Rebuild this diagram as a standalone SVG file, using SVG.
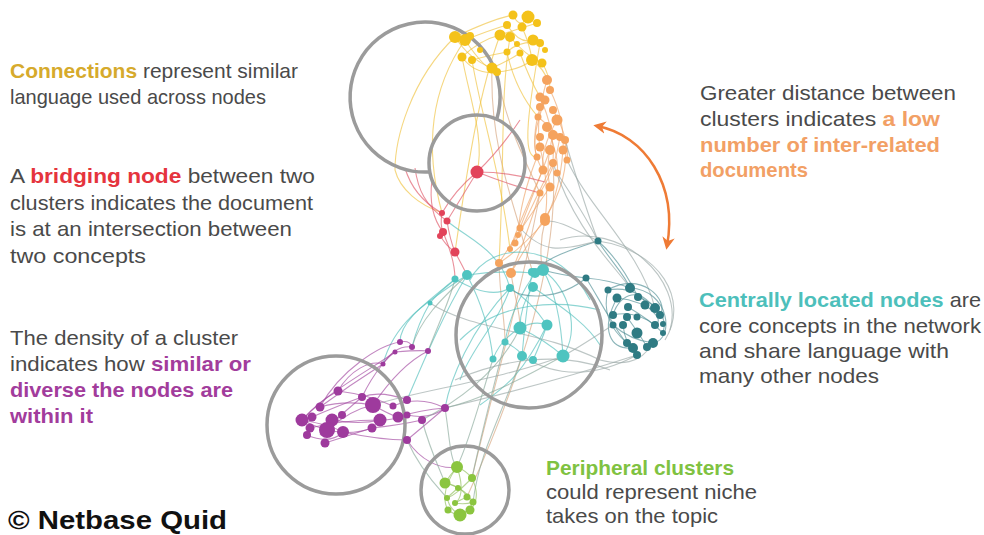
<svg xmlns="http://www.w3.org/2000/svg" width="984" height="535" viewBox="0 0 984 535">
<defs>
<style>
.t{font-family:"Liberation Sans",Arial,sans-serif;font-size:21px;fill:#4a4a4a}
.b{font-weight:bold}
.ring{fill:none;stroke:#9b9b9b;stroke-width:3.5}
.e{fill:none;stroke-width:1.1;opacity:.65}
.ey{stroke:#efc23e}.eo{stroke:#eea56a}.et{stroke:#d6a47e}.er{stroke:#df5566}
.ec{stroke:#52bfbb}.ed{stroke:#4f8d93}.ep{stroke:#a2479f}.eg{stroke:#8fbf5a}.ex{stroke:#9aa7a6}.eq{stroke:#8aa99b}
.ny circle{fill:#f4c21a}.no circle{fill:#f5a35e}.nr circle{fill:#e2435a}
.nc circle{fill:#4fc4c0}.nd circle{fill:#2f7b83}.np circle{fill:#9e3a9d}.ng circle{fill:#8bc53f}
</style>
<marker id="ah" viewBox="0 0 10 10" refX="7" refY="5" markerWidth="5" markerHeight="5" orient="auto-start-reverse">
<path d="M0,0 L10,5 L0,10 L3,5 Z" fill="#ef7b35"/>
</marker>
</defs>
<rect width="984" height="535" fill="#ffffff"/>

<g id="connectors">
<!-- yellow -->
<path class="e ey" d="M513,15 Q520,30 528,17"/>
<path class="e ey" d="M507,25 Q520,45 533,40"/>
<path class="e ey" d="M500,35 Q515,30 537,23"/>
<path class="e ey" d="M510,37 Q525,55 542,63"/>
<path class="e ey" d="M507,52 Q520,40 540,43"/>
<path class="e ey" d="M522,27 Q530,45 532,60"/>
<path class="e ey" d="M455,37 Q490,20 513,15"/>
<path class="e ey" d="M465,40 Q490,30 507,25"/>
<path class="e ey" d="M462,57 Q480,40 500,35"/>
<path class="e ey" d="M472,60 Q490,55 507,52"/>
<path class="e ey" d="M455,37 Q470,60 492,68"/>
<path class="e ey" d="M465,40 Q485,70 497,72"/>
<path class="e ey" d="M492,68 Q510,60 520,53"/>
<path class="e ey" d="M497,72 Q520,70 532,60"/>
<path class="e ey" d="M462,57 Q475,75 497,72"/>
<path class="e ey" d="M532,60 Q545,70 547,80"/>
<path class="e ey" d="M542,63 Q550,75 550,90"/>
<path class="e ey" d="M520,53 Q530,80 540,97"/>
<path class="e ey" d="M507,52 Q515,90 538,117"/>
<path class="e et" d="M497,72 C505,120 520,150 540,193"/>
<path class="e et" d="M492,68 C490,130 505,180 520,228"/>
<path class="e ey" d="M472,60 C480,110 500,170 510,249"/>
<path class="e ey" d="M462,57 C470,100 485,140 477,172"/>
<path class="e ey" d="M455,37 C410,80 395,140 395,170 C400,190 420,205 440,212"/>
<path class="e ey" d="M465,40 C430,90 425,150 442,213"/>
<path class="e ey" d="M500,35 C480,90 470,150 455,252"/>
<path class="e ey" d="M510,37 C500,100 505,150 499,263"/>
<path class="e ey" d="M540,43 C530,100 520,160 537,157"/>
<!-- orange -->
<path class="e eo" d="M547,80 Q535,120 540,147"/>
<path class="e eo" d="M550,90 Q565,120 563,150"/>
<path class="e eo" d="M540,97 Q555,130 553,163"/>
<path class="e eo" d="M545,100 Q530,140 537,157"/>
<path class="e eo" d="M553,110 Q570,140 567,160"/>
<path class="e eo" d="M557,120 Q540,150 543,170"/>
<path class="e eo" d="M547,127 Q560,160 557,173"/>
<path class="e eo" d="M553,135 Q545,165 550,187"/>
<path class="e eo" d="M560,137 Q555,170 540,193"/>
<path class="e eo" d="M565,140 Q570,180 545,218"/>
<path class="e eo" d="M540,147 Q550,190 545,218"/>
<path class="e eo" d="M550,150 Q535,190 520,228"/>
<path class="e eo" d="M563,150 C560,190 550,210 545,221"/>
<path class="e eo" d="M537,157 Q520,200 518,235"/>
<path class="e eo" d="M553,163 Q530,210 515,243"/>
<path class="e eo" d="M543,170 Q520,220 510,249"/>
<path class="e eo" d="M550,187 Q520,230 499,263"/>
<path class="e eo" d="M540,193 Q525,240 511,273"/>
<path class="e eo" d="M545,218 Q530,240 511,273"/>
<path class="e eo" d="M545,221 Q520,250 499,263"/>
<path class="e eo" d="M538,117 Q548,125 560,137"/>
<path class="e eo" d="M540,107 Q528,150 543,170"/>
<path class="e et" d="M545,221 C540,240 540,260 543,270"/>
<path class="e et" d="M520,228 C525,250 530,262 533,273"/>
<path class="e et" d="M499,263 C500,300 505,320 505,342"/>
<path class="e et" d="M511,273 C515,300 520,310 520,328"/>
<path class="e et" d="M540,193 C520,300 490,400 472,478"/>
<path class="e et" d="M553,163 C560,260 520,380 467,497"/>
<path class="e ex" d="M557,173 C575,200 590,225 598,241"/>
<path class="e ex" d="M565,140 C580,190 590,220 598,241"/>
<path class="e ex" d="M553,163 C575,230 610,260 630,288"/>
<path class="e ex" d="M567,160 C590,210 640,250 655,308"/>
<!-- red -->
<path class="e er" d="M477,172 Q455,190 442,213"/>
<path class="e er" d="M477,172 Q460,200 447,221"/>
<path class="e er" d="M477,172 Q510,172 545,182"/>
<path class="e er" d="M477,172 Q510,185 540,193"/>
<path class="e er" d="M477,172 Q500,150 520,120"/>
<path class="e er" d="M442,213 Q440,225 443,232"/>
<path class="e er" d="M447,221 Q450,240 455,252"/>
<path class="e er" d="M440,235 Q445,245 455,252"/>
<path class="e er" d="M440,212 C420,200 410,185 405,168"/>
<path class="e er" d="M447,221 C425,205 418,190 415,168"/>
<path class="e er" d="M443,232 C430,215 430,195 432,180"/>
<path class="e er" d="M455,252 Q462,265 467,275"/>
<path class="e er" d="M443,232 Q455,260 455,279"/>
<path class="e ec" d="M447,221 C470,240 500,250 510,288"/>
<!-- light teal -->
<path class="e ec" d="M467,275 Q500,270 533,273"/>
<path class="e ec" d="M455,279 Q490,300 510,288"/>
<path class="e ec" d="M510,288 Q530,300 547,325"/>
<path class="e ec" d="M533,287 Q520,305 520,328"/>
<path class="e ec" d="M543,270 Q560,300 563,356"/>
<path class="e ec" d="M535,273 Q510,310 505,342"/>
<path class="e ec" d="M532,272 Q525,320 522,356"/>
<path class="e ec" d="M520,328 Q535,320 547,325"/>
<path class="e ec" d="M520,328 Q500,340 493,359"/>
<path class="e ec" d="M547,325 Q540,345 533,360"/>
<path class="e ec" d="M505,342 Q520,350 522,356"/>
<path class="e ec" d="M520,328 Q545,340 563,356"/>
<path class="e ec" d="M533,287 C550,300 585,320 600,345"/>
<path class="e ec" d="M470,280 C490,240 560,240 590,300"/>
<path class="e ec" d="M460,340 C500,300 560,300 600,310"/>
<path class="e ec" d="M467,275 C480,300 490,330 493,359"/>
<path class="e ec" d="M543,270 C570,290 580,330 563,356"/>
<path class="e ec" d="M510,288 C500,320 470,350 460,380"/>
<path class="e ec" d="M547,325 C520,380 500,390 480,405"/>
<path class="e ec" d="M455,279 C430,300 400,320 400,342"/>
<path class="e ec" d="M430,303 C440,290 450,285 455,279"/>
<path class="e ec" d="M467,275 C440,320 420,370 407,400"/>
<path class="e ec" d="M510,288 C470,330 450,380 445,408"/>
<path class="e ec" d="M467,275 C430,300 395,320 383,364"/>
<path class="e ec" d="M430,303 C420,320 415,335 412,347"/>
<path class="e eq" d="M493,359 C480,400 470,440 457,467"/>
<path class="e eq" d="M505,342 C490,400 480,440 472,478"/>
<path class="e eq" d="M522,356 C500,420 480,450 473,502"/>
<path class="e ex" d="M430,303 C470,330 540,330 600,360"/>
<path class="e ex" d="M455,380 C500,360 560,350 610,370"/>
<path class="e ex" d="M445,408 C500,395 560,380 637,355"/>
<path class="e ex" d="M563,356 C500,380 420,390 373,405"/>
<!-- dark teal -->
<path class="e ed" d="M586,278 C600,300 620,340 637,355"/>
<path class="e ed" d="M598,241 C610,260 625,275 630,288"/>
<path class="e ed" d="M598,241 Q620,260 638,297"/>
<path class="e ed" d="M586,278 Q610,280 630,288"/>
<path class="e ed" d="M608,290 Q635,285 655,308"/>
<path class="e ed" d="M617,298 Q640,300 660,315"/>
<path class="e ed" d="M613,315 Q635,310 655,325"/>
<path class="e ed" d="M628,307 Q650,320 663,333"/>
<path class="e ed" d="M613,325 Q630,340 653,343"/>
<path class="e ed" d="M627,317 Q640,335 647,347"/>
<path class="e ed" d="M623,325 Q625,345 637,355"/>
<path class="e ed" d="M608,290 Q600,320 627,343"/>
<path class="e ed" d="M645,305 Q665,320 655,325"/>
<path class="e ed" d="M638,297 Q670,310 663,333"/>
<path class="e ed" d="M630,288 C670,290 675,340 653,343"/>
<path class="e ed" d="M617,298 C600,330 610,350 633,348"/>
<path class="e ed" d="M608,290 C640,270 670,300 660,315"/>
<path class="e ed" d="M613,315 C620,290 645,290 645,305"/>
<path class="e ed" d="M598,241 C570,250 540,260 535,273"/>
<path class="e ed" d="M586,278 Q560,275 543,270"/>
<path class="e ed" d="M586,278 C560,300 520,300 510,288"/>
<path class="e ex" d="M613,325 C590,340 575,350 563,356"/>
<path class="e ex" d="M637,355 C600,375 560,380 522,356"/>
<path class="e ex" d="M598,241 C660,250 690,300 665,340"/>
<path class="e ex" d="M560,240 C620,220 685,280 670,330"/>
<path class="e ex" d="M598,241 C575,230 560,220 545,221"/>
<path class="e ex" d="M598,241 C560,250 545,255 520,228"/>
<path class="e ex" d="M600,360 C620,365 640,365 653,343"/>
<!-- purple -->
<path class="e ep" d="M302,420 Q320,400 338,391"/>
<path class="e ep" d="M302,420 Q330,425 343,432"/>
<path class="e ep" d="M312,417 Q340,405 362,397"/>
<path class="e ep" d="M320,407 Q345,400 373,405"/>
<path class="e ep" d="M302,420 Q340,440 372,428"/>
<path class="e ep" d="M310,428 Q340,420 380,420"/>
<path class="e ep" d="M307,435 Q330,445 343,432"/>
<path class="e ep" d="M327,430 Q350,410 373,405"/>
<path class="e ep" d="M332,420 Q360,425 380,420"/>
<path class="e ep" d="M325,443 Q350,435 372,428"/>
<path class="e ep" d="M320,435 Q340,415 362,397"/>
<path class="e ep" d="M338,391 Q370,395 393,406"/>
<path class="e ep" d="M362,397 Q380,390 407,400"/>
<path class="e ep" d="M373,405 Q390,415 398,417"/>
<path class="e ep" d="M380,420 Q395,420 407,415"/>
<path class="e ep" d="M372,428 Q400,425 422,420"/>
<path class="e ep" d="M343,432 Q380,440 407,440"/>
<path class="e ep" d="M398,417 Q420,410 445,408"/>
<path class="e ep" d="M407,415 Q430,420 445,408"/>
<path class="e ep" d="M407,440 Q425,425 445,408"/>
<path class="e ep" d="M393,406 Q420,395 445,408"/>
<path class="e ep" d="M320,407 Q350,385 383,364"/>
<path class="e ep" d="M338,391 C350,370 370,360 383,364"/>
<path class="e ep" d="M362,397 C375,370 390,355 395,352"/>
<path class="e ep" d="M383,364 Q395,345 412,347"/>
<path class="e ep" d="M395,352 Q420,350 428,351"/>
<path class="e ep" d="M400,342 Q410,340 412,347"/>
<path class="e ep" d="M373,405 C390,380 410,360 428,351"/>
<path class="e ep" d="M320,407 C340,370 380,345 400,342"/>
<path class="e ep" d="M302,420 C330,390 370,370 395,352"/>
<path class="e eq" d="M428,351 C440,320 450,300 455,279"/>
<path class="e eq" d="M412,347 C420,320 440,300 467,275"/>
<path class="e eq" d="M445,408 C480,400 520,380 563,356"/>
<path class="e eq" d="M422,420 C460,400 500,370 520,328"/>
<path class="e ep" d="M407,440 C420,460 440,470 457,467"/>
<path class="e eq" d="M422,420 C430,450 440,470 445,483"/>
<path class="e eq" d="M445,408 C450,440 450,460 457,467"/>
<path class="e eq" d="M407,440 C420,470 440,490 447,498"/>
<!-- green -->
<path class="e eg" d="M457,467 Q450,475 445,483"/>
<path class="e eg" d="M457,467 Q465,470 472,478"/>
<path class="e eg" d="M445,483 Q455,485 458,488"/>
<path class="e eg" d="M458,488 Q450,495 447,498"/>
<path class="e eg" d="M458,488 Q465,492 467,497"/>
<path class="e eg" d="M467,497 Q460,500 455,503"/>
<path class="e eg" d="M455,503 Q465,505 473,502"/>
<path class="e eg" d="M447,498 Q450,510 460,515"/>
<path class="e eg" d="M473,502 Q470,510 460,515"/>
<path class="e eg" d="M448,510 Q455,515 460,515"/>
<path class="e eg" d="M470,510 Q465,512 460,515"/>
<path class="e eg" d="M457,467 C440,490 445,505 448,510"/>
<path class="e eg" d="M472,478 C480,495 475,505 470,510"/>
<path class="e eg" d="M445,483 C470,490 470,500 473,502"/>
<path class="e eg" d="M457,467 C465,490 460,500 455,503"/>
<path class="e eg" d="M472,478 C460,490 455,495 447,498"/>
</g>

<g id="rings">
<path class="ring" d="M496.7,119.3 A75,75 0 1,0 429.9,171.9"/>
<circle class="ring" cx="477" cy="163" r="48"/>
<circle class="ring" cx="529" cy="335" r="73"/>
<circle class="ring" cx="336" cy="425" r="69"/>
<circle class="ring" cx="465" cy="490" r="44"/>
</g>

<g id="cluster-yellow" class="ny">
<circle cx="513" cy="15" r="4.5"/><circle cx="528" cy="17" r="6.5"/><circle cx="507" cy="25" r="4"/>
<circle cx="522" cy="27" r="4.5"/><circle cx="537" cy="23" r="4"/><circle cx="500" cy="35" r="5.5"/>
<circle cx="510" cy="37" r="5"/><circle cx="533" cy="40" r="5.5"/><circle cx="540" cy="43" r="4"/>
<circle cx="507" cy="52" r="3.5"/><circle cx="520" cy="53" r="3.5"/><circle cx="532" cy="60" r="6"/>
<circle cx="542" cy="63" r="4.5"/><circle cx="517" cy="44" r="3"/><circle cx="545" cy="50" r="3"/>
<circle cx="455" cy="37" r="6"/><circle cx="465" cy="40" r="6"/><circle cx="470" cy="36" r="4"/>
<circle cx="462" cy="57" r="4.5"/><circle cx="472" cy="60" r="4"/><circle cx="492" cy="68" r="5.5"/>
<circle cx="497" cy="72" r="4"/><circle cx="480" cy="50" r="3"/>
</g>
<g id="cluster-orange" class="no">
<circle cx="547" cy="80" r="5"/><circle cx="550" cy="90" r="4"/><circle cx="540" cy="97" r="4.5"/>
<circle cx="545" cy="100" r="4.5"/><circle cx="553" cy="110" r="4"/><circle cx="540" cy="107" r="4"/>
<circle cx="538" cy="117" r="3.5"/><circle cx="557" cy="120" r="5.5"/><circle cx="547" cy="127" r="5"/>
<circle cx="540" cy="137" r="4"/><circle cx="553" cy="135" r="5"/><circle cx="560" cy="137" r="4"/>
<circle cx="565" cy="140" r="4"/><circle cx="540" cy="147" r="4.5"/><circle cx="550" cy="150" r="5"/>
<circle cx="563" cy="150" r="4.5"/><circle cx="567" cy="160" r="3.5"/><circle cx="537" cy="157" r="3.5"/>
<circle cx="553" cy="163" r="4"/><circle cx="543" cy="170" r="4.5"/><circle cx="557" cy="173" r="3.5"/>
<circle cx="550" cy="187" r="4.5"/><circle cx="540" cy="193" r="3.5"/><circle cx="545" cy="218" r="5"/>
<circle cx="545" cy="221" r="5"/><circle cx="520" cy="228" r="3.5"/><circle cx="518" cy="235" r="3"/>
<circle cx="515" cy="243" r="3.5"/><circle cx="510" cy="249" r="3"/><circle cx="499" cy="263" r="4"/>
<circle cx="511" cy="273" r="5"/>
</g>
<g id="bridging-node" class="nr">
<circle cx="477" cy="172" r="6.5" fill="#e8334a"/>
<circle cx="442" cy="213" r="3"/><circle cx="447" cy="221" r="3.5"/><circle cx="443" cy="232" r="4"/>
<circle cx="440" cy="236" r="3"/><circle cx="455" cy="252" r="4.5"/>
</g>
<g id="cluster-central" class="nc">
<circle cx="543" cy="270" r="6"/><circle cx="535" cy="273" r="5"/><circle cx="532" cy="272" r="4"/>
<circle cx="467" cy="275" r="5"/><circle cx="455" cy="279" r="3.5"/><circle cx="510" cy="288" r="4"/>
<circle cx="533" cy="287" r="5"/><circle cx="520" cy="328" r="6.5"/><circle cx="547" cy="325" r="5.5"/>
<circle cx="505" cy="342" r="3.5"/><circle cx="493" cy="359" r="3.5"/><circle cx="522" cy="356" r="5"/>
<circle cx="533" cy="360" r="4"/><circle cx="563" cy="356" r="6.5"/><circle cx="430" cy="303" r="2.5"/>
</g>
<g id="cluster-darkteal" class="nd">
<circle cx="598" cy="241" r="3.5"/><circle cx="586" cy="278" r="3.5"/><circle cx="608" cy="290" r="3.5"/>
<circle cx="630" cy="288" r="5"/><circle cx="617" cy="298" r="4.5"/><circle cx="638" cy="297" r="4"/>
<circle cx="613" cy="315" r="4"/><circle cx="628" cy="307" r="4"/><circle cx="645" cy="305" r="4.5"/>
<circle cx="655" cy="308" r="5"/><circle cx="627" cy="317" r="4"/><circle cx="637" cy="317" r="3.5"/>
<circle cx="660" cy="315" r="4"/><circle cx="613" cy="325" r="3.5"/><circle cx="623" cy="325" r="4"/>
<circle cx="655" cy="325" r="4"/><circle cx="637" cy="333" r="5.5"/><circle cx="663" cy="333" r="3"/>
<circle cx="627" cy="343" r="4"/><circle cx="653" cy="343" r="5"/><circle cx="633" cy="348" r="5"/>
<circle cx="647" cy="347" r="4"/><circle cx="637" cy="355" r="4"/><circle cx="663" cy="324" r="3"/>
</g>
<g id="cluster-purple" class="np">
<circle cx="400" cy="342" r="3"/><circle cx="412" cy="347" r="3"/><circle cx="428" cy="351" r="3"/>
<circle cx="395" cy="352" r="2.5"/><circle cx="383" cy="364" r="2.5"/><circle cx="338" cy="391" r="4.5"/>
<circle cx="362" cy="397" r="4"/><circle cx="320" cy="407" r="4.5"/><circle cx="373" cy="405" r="8"/>
<circle cx="407" cy="400" r="4"/><circle cx="393" cy="406" r="3.5"/><circle cx="445" cy="408" r="4"/>
<circle cx="302" cy="420" r="6.5"/><circle cx="312" cy="417" r="4.5"/><circle cx="332" cy="420" r="6.5"/>
<circle cx="342" cy="415" r="4"/><circle cx="327" cy="430" r="8"/><circle cx="343" cy="432" r="6"/>
<circle cx="310" cy="428" r="4.5"/><circle cx="307" cy="435" r="4"/><circle cx="380" cy="420" r="6.5"/>
<circle cx="372" cy="428" r="4.5"/><circle cx="398" cy="417" r="5.5"/><circle cx="407" cy="415" r="3.5"/>
<circle cx="422" cy="420" r="4"/><circle cx="407" cy="440" r="4"/><circle cx="325" cy="443" r="4.5"/>
</g>
<g id="cluster-peripheral" class="ng">
<circle cx="457" cy="467" r="6"/><circle cx="445" cy="483" r="5.5"/><circle cx="472" cy="478" r="4"/>
<circle cx="458" cy="488" r="3"/><circle cx="447" cy="498" r="3"/><circle cx="467" cy="497" r="3.5"/>
<circle cx="455" cy="503" r="3"/><circle cx="473" cy="502" r="3.5"/><circle cx="460" cy="515" r="6.5"/>
<circle cx="470" cy="510" r="4.5"/><circle cx="448" cy="510" r="3.5"/>
</g>

<g id="distance-arrow">
<path d="M597,126 C645,135 678,185 667,246" fill="none" stroke="#ef7b35" stroke-width="2.5" marker-start="url(#ah)" marker-end="url(#ah)"/>
</g>

<g id="note-connections">
<text class="t" x="10" y="78" textLength="288" lengthAdjust="spacingAndGlyphs"><tspan class="b" fill="#d6aa2c">Connections</tspan> represent similar</text>
<text class="t" x="10" y="104" textLength="256" lengthAdjust="spacingAndGlyphs">language used across nodes</text>
</g>
<g id="note-bridging">
<text class="t" x="10" y="183" textLength="305" lengthAdjust="spacingAndGlyphs">A <tspan class="b" fill="#e5343d">bridging node</tspan> between two</text>
<text class="t" x="10" y="209.5" textLength="303" lengthAdjust="spacingAndGlyphs">clusters indicates the document</text>
<text class="t" x="10" y="236" textLength="282" lengthAdjust="spacingAndGlyphs">is at an intersection between</text>
<text class="t" x="10" y="262.5" textLength="136" lengthAdjust="spacingAndGlyphs">two concepts</text>
</g>
<g id="note-density">
<text class="t" x="10" y="345" textLength="228" lengthAdjust="spacingAndGlyphs">The density of a cluster</text>
<text class="t" x="10" y="371" textLength="241" lengthAdjust="spacingAndGlyphs">indicates how <tspan class="b" fill="#a23c9c">similar or</tspan></text>
<text class="t b" x="10" y="397" style="fill:#a23c9c" textLength="223" lengthAdjust="spacingAndGlyphs">diverse the nodes are</text>
<text class="t b" x="10" y="423" style="fill:#a23c9c" textLength="83" lengthAdjust="spacingAndGlyphs">within it</text>
</g>
<g id="note-distance">
<text class="t" x="700" y="100" textLength="256" lengthAdjust="spacingAndGlyphs">Greater distance between</text>
<text class="t" x="700" y="126" textLength="240" lengthAdjust="spacingAndGlyphs">clusters indicates <tspan class="b" fill="#f2a065">a low</tspan></text>
<text class="t b" x="700" y="152" style="fill:#f2a065" textLength="240" lengthAdjust="spacingAndGlyphs">number of inter-related</text>
<text class="t b" x="700" y="177" style="fill:#f2a065" textLength="108" lengthAdjust="spacingAndGlyphs">documents</text>
</g>
<g id="note-central">
<text class="t" x="699" y="307" textLength="282" lengthAdjust="spacingAndGlyphs"><tspan class="b" fill="#4dbfbb">Centrally located nodes</tspan> are</text>
<text class="t" x="699" y="333" textLength="282" lengthAdjust="spacingAndGlyphs">core concepts in the network</text>
<text class="t" x="699" y="358" textLength="250" lengthAdjust="spacingAndGlyphs">and share language with</text>
<text class="t" x="699" y="383" textLength="180" lengthAdjust="spacingAndGlyphs">many other nodes</text>
</g>
<g id="note-peripheral">
<text class="t b" x="546" y="475" style="fill:#7fc241" textLength="188" lengthAdjust="spacingAndGlyphs">Peripheral clusters</text>
<text class="t" x="546" y="499" textLength="211" lengthAdjust="spacingAndGlyphs">could represent niche</text>
<text class="t" x="546" y="523" textLength="172" lengthAdjust="spacingAndGlyphs">takes on the topic</text>
</g>
<g id="credit">
<text x="8" y="529" font-family="'Liberation Sans',Arial,sans-serif" font-size="25" font-weight="bold" fill="#111" textLength="219" lengthAdjust="spacingAndGlyphs">© Netbase Quid</text>
</g>
</svg>
